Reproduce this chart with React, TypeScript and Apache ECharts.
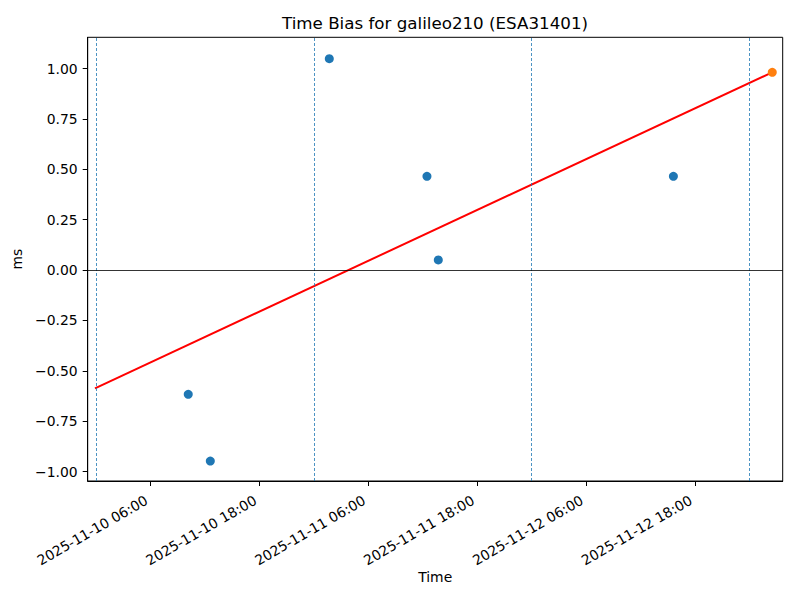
import React, { useEffect, useRef } from "react";
import * as echarts from "echarts";

const titleText = "Time Bias for galileo210 (ESA31401)";
const xName = "Time";
const yName = "ms";

const biasTimes = [
  "2025-11-10 10:09",
  "2025-11-10 12:35",
  "2025-11-11 01:42",
  "2025-11-11 12:28",
  "2025-11-11 13:43",
  "2025-11-12 15:38",
];
const biasValues = [-0.617, -0.948, 1.049, 0.465, 0.05, 0.465];

const latestTime = ["2025-11-13 02:32"];
const latestValue = [0.981];

const fitTimes = ["2025-11-09 23:52", "2025-11-13 02:32"];
const fitValues = [-0.587, 0.981];

const dayLines = [
  "2025-11-10 00:00",
  "2025-11-11 00:00",
  "2025-11-12 00:00",
  "2025-11-13 00:00",
];

const xTicks = [
  "2025-11-10 06:00",
  "2025-11-10 18:00",
  "2025-11-11 06:00",
  "2025-11-11 18:00",
  "2025-11-12 06:00",
  "2025-11-12 18:00",
];
const yTicks = [-1.0, -0.75, -0.5, -0.25, 0.0, 0.25, 0.5, 0.75, 1.0];

const xLimits = ["2025-11-09 23:04", "2025-11-13 03:41"];
const yLimits = [-1.047, 1.155];

function parseT(s: string): number {
  const [d, t] = s.split(" ");
  const [Y, M, D] = d.split("-").map(Number);
  const [h, m] = t.split(":").map(Number);
  return new Date(Y, M - 1, D, h, m).getTime();
}
function pad(n: number) {
  return n < 10 ? "0" + n : "" + n;
}
function fmtT(v: number): string {
  const hr = 3600000;
  const d = new Date(Math.round(v / hr) * hr);
  return (
    d.getFullYear() +
    "-" +
    pad(d.getMonth() + 1) +
    "-" +
    pad(d.getDate()) +
    " " +
    pad(d.getHours()) +
    ":" +
    pad(d.getMinutes())
  );
}

const FONT = "DejaVu Sans";

export default function App() {
  const ref = useRef<HTMLDivElement>(null);
  useEffect(() => {
    if (!ref.current) return;
    const chart = echarts.init(ref.current, undefined, { renderer: "svg" });
    const tickVals = xTicks.map(parseT);
    const labelShift = 0.45 * 3600000;
    const option: any = {
      animation: false,
      backgroundColor: "#fff",
      grid: {
        left: 87.7,
        right: 17.3,
        top: 37.3,
        bottom: 119,
        show: true,
        borderColor: "#000",
        borderWidth: 1,
        containLabel: false,
      },
      graphic: [
        {
          type: "text",
          x: 435,
          y: 23,
          style: {
            text: titleText,
            fontFamily: FONT,
            fontSize: 16.7,
            fill: "#000",
            textAlign: "center",
            textVerticalAlign: "middle",
          },
        },
      ],
      xAxis: {
        type: "value",
        min: parseT(xLimits[0]),
        max: parseT(xLimits[1]),
        name: xName,
        nameLocation: "middle",
        nameGap: 89,
        nameMoveOverlap: false,
        nameTextStyle: { fontFamily: FONT, fontSize: 13.9, color: "#000" },
        splitLine: { show: false },
        axisLine: { show: true, onZero: false, lineStyle: { color: "#000", width: 1 } },
        axisTick: {
          show: true,
          length: 5,
          lineStyle: { color: "#000", width: 1 },
          customValues: tickVals,
        },
        axisLabel: {
          show: true,
          rotate: 30,
          margin: 18,
          fontFamily: FONT,
          fontSize: 13.9,
          color: "#000",
          customValues: tickVals.map((v) => v - labelShift),
          formatter: (v: number) => fmtT(v),
        },
      },
      yAxis: {
        type: "value",
        min: yLimits[0],
        max: yLimits[1],
        name: yName,
        nameLocation: "middle",
        nameGap: 63,
        nameTextStyle: { fontFamily: FONT, fontSize: 13.9, color: "#000" },
        splitLine: { show: false },
        axisLine: { show: true, onZero: false, lineStyle: { color: "#000", width: 1 } },
        axisTick: {
          show: true,
          length: 5,
          lineStyle: { color: "#000", width: 1 },
          customValues: yTicks,
        },
        axisLabel: {
          show: true,
          margin: 10,
          fontFamily: FONT,
          fontSize: 13.9,
          color: "#000",
          customValues: yTicks,
          formatter: (v: number) =>
            (v < 0 ? "\u2212" : "") + Math.abs(v).toFixed(2),
        },
      },
      series: [
        {
          type: "line",
          data: fitTimes.map((t, i) => [parseT(t), fitValues[i]]),
          showSymbol: false,
          symbol: "none",
          lineStyle: { color: "#ff0000", width: 2 },
          silent: true,
          z: 3,
          markLine: {
            silent: true,
            symbol: ["none", "none"],
            label: { show: false },
            animation: false,
            data: [
              ...dayLines.map((d) => ({
                xAxis: parseT(d),
                lineStyle: {
                  color: "#1f77b4",
                  width: 0.8,
                  type: [3, 2],
                },
              })),
              {
                yAxis: 0,
                lineStyle: { color: "#000", width: 0.8, type: "solid" },
              },
            ],
          },
        },
        {
          type: "scatter",
          data: biasTimes.map((t, i) => [parseT(t), biasValues[i]]),
          symbolSize: 9,
          itemStyle: { color: "#1f77b4", opacity: 1 },
          z: 4,
        },
        {
          type: "scatter",
          data: latestTime.map((t, i) => [parseT(t), latestValue[i]]),
          symbolSize: 9,
          itemStyle: { color: "#ff7f0e", opacity: 1 },
          z: 5,
        },
      ],
    };
    chart.setOption(option);
    return () => chart.dispose();
  }, []);
  return <div ref={ref} style={{ width: 800, height: 600, margin: -8 }} />;
}
